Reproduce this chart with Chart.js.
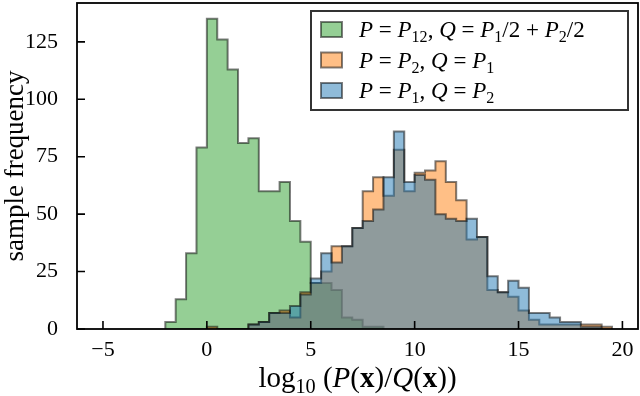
<!DOCTYPE html>
<html><head><meta charset="utf-8">
<script src="https://cdn.jsdelivr.net/npm/chart.js@4/dist/chart.umd.min.js"></script>
<style>html,body{margin:0;padding:0;background:#fff;}</style>
</head><body>
<canvas id="c" width="640" height="396"></canvas>
<script>
// ---- data (histogram bins: left edge = binStart + i*binWidth) ----
const binStart = -2;
const binWidth = 0.5;
const countsP12 = [3,13,33,79,135,126,113,81,83,60,60,64,47,38,20,20,17,5,4,1,1,
  0,0,0,0,0,0,0,0,0,0,0,0,0,0,0,0,0,0,0,0,0,0,0];
const countsP2P1 = [0,0,0,0,1,0,0,0,2,3,7,8,5,16,20,25,36,36,44,60,66,58,78,60,68,69,73,64,56,39,40,17,16,14,8,4,2,2,2,2,2,2,1,0];
const countsP1P2 = [0,0,0,0,0,0,0,0,2,3,7,7,10,15,22,33,29,36,44,47,52,66,86,64,67,65,50,48,47,48,40,23,16,21,18,7,7,5,3,3,1,1,0,0];
const seriesLabels = ['P = P_{12}, Q = P_1/2 + P_2/2', 'P = P_2, Q = P_1', 'P = P_1, Q = P_2'];
const seriesColors = ['rgba(44,160,44,0.5)', 'rgba(255,127,14,0.5)', 'rgba(31,119,180,0.5)'];
const xTicks = [-5, 0, 5, 10, 15, 20];
const yTicks = [0, 25, 50, 75, 100, 125];
const xTitle = '\\log_{10} (P(\\mathbf{x})/Q(\\mathbf{x}))';
const yTitle = 'sample frequency';

// build step outline points from bins
function histPoints(counts) {
  let first = counts.findIndex(v => v > 0);
  let last = counts.length - 1;
  while (last > 0 && counts[last] === 0) last--;
  const pts = [{x: binStart + first * binWidth, y: 0}];
  for (let i = first; i <= last; i++) pts.push({x: binStart + i * binWidth, y: counts[i]});
  const right = binStart + (last + 1) * binWidth;
  pts.push({x: right, y: counts[last]});
  pts.push({x: right, y: 0});
  return pts;
}

const FONT = '"Liberation Serif", "DejaVu Serif", serif';

function parseTex(s) {
  const out = []; let i = 0;
  while (i < s.length) {
    if (s.startsWith('\\log', i)) { out.push({t: 'log', st: 'n'}); i += 4; continue; }
    if (s.startsWith('\\mathbf{', i)) { const j = s.indexOf('}', i); out.push({t: s.slice(i + 8, j), st: 'b'}); i = j + 1; continue; }
    if (s[i] === '_') {
      let t;
      if (s[i + 1] === '{') { const j = s.indexOf('}', i); t = s.slice(i + 2, j); i = j + 1; }
      else { t = s[i + 1]; i += 2; }
      out.push({t, st: 'n', sub: true}); continue;
    }
    const c = s[i];
    out.push({t: c, st: /[A-Za-z]/.test(c) ? 'i' : 'n'}); i++;
  }
  return out;
}
function fontFor(p, size) {
  const sz = p.sub ? size * 0.7 : size;
  return (p.st === 'i' ? 'italic ' : '') + (p.st === 'b' ? 'bold ' : '') + sz + 'px ' + FONT;
}
function measureTex(ctx, parts, size) {
  let w = 0;
  for (const p of parts) { ctx.font = fontFor(p, size); w += ctx.measureText(p.t).width; }
  return w;
}
function drawTex(ctx, parts, x, yBase, size) {
  ctx.textBaseline = 'alphabetic'; ctx.textAlign = 'left';
  for (const p of parts) {
    ctx.font = fontFor(p, size);
    ctx.fillText(p.t, x, yBase + (p.sub ? size * 0.22 : 0));
    x += ctx.measureText(p.t).width;
  }
}

const extras = {
  id: 'extras',
  afterDraw(chart) {
    const {ctx, chartArea: a, scales: {x, y}} = chart;
    ctx.save();
    ctx.strokeStyle = '#000';
    ctx.lineWidth = 1.6;
    ctx.beginPath();
    x.ticks.forEach(t => { const px = x.getPixelForValue(t.value); ctx.moveTo(px, a.bottom); ctx.lineTo(px, a.bottom - 8); });
    y.ticks.forEach(t => { const py = y.getPixelForValue(t.value); ctx.moveTo(a.left, py); ctx.lineTo(a.left + 8, py); });
    ctx.stroke();
    ctx.lineWidth = 1.8;
    ctx.strokeRect(a.left, a.top, a.right - a.left, a.bottom - a.top);

    // legend
    const lx = 311, ly = 11, lw = 317, lh = 99;
    ctx.fillStyle = '#fff';
    ctx.fillRect(lx, ly, lw, lh);
    ctx.strokeStyle = '#333';
    ctx.lineWidth = 2;
    ctx.strokeRect(lx, ly, lw, lh);
    const rowY = [29.5, 60, 90.5];
    seriesLabels.forEach((lab, i) => {
      const cy = rowY[i];
      ctx.fillStyle = seriesColors[i];
      ctx.fillRect(321, cy - 7.5, 21, 15);
      ctx.strokeStyle = 'rgba(0,0,0,0.5)';
      ctx.lineWidth = 2;
      ctx.strokeRect(321, cy - 7.5, 21, 15);
      ctx.fillStyle = '#000';
      drawTex(ctx, parseTex(lab), 359, cy + 7.5, 23);
    });

    // x title
    const parts = parseTex(xTitle);
    const size = 29;
    const w = measureTex(ctx, parts, size);
    ctx.fillStyle = '#000';
    drawTex(ctx, parts, (a.left + a.right) / 2 - w / 2, 387, size);
    ctx.restore();
  }
};

const datasets = [
  {label: seriesLabels[2], data: histPoints(countsP1P2), backgroundColor: seriesColors[2]},
  {label: seriesLabels[1], data: histPoints(countsP2P1), backgroundColor: seriesColors[1]},
  {label: seriesLabels[0], data: histPoints(countsP12), backgroundColor: seriesColors[0]},
].map(d => Object.assign(d, {
  stepped: 'before', fill: 'origin', borderColor: 'rgba(0,0,0,0.5)', borderWidth: 2,
  pointRadius: 0, tension: 0, borderJoinStyle: 'miter'
}));

new Chart(document.getElementById('c'), {
  type: 'line',
  data: {datasets},
  options: {
    responsive: false, animation: false, devicePixelRatio: 1,
    layout: {padding: {left: 0, right: 2, top: 3, bottom: 0}},
    plugins: {legend: {display: false}, tooltip: {enabled: false}},
    scales: {
      x: {
        type: 'linear', min: -6.25, max: 20.75,
        grid: {display: false, drawTicks: false}, border: {display: false},
        afterBuildTicks: s => { s.ticks = xTicks.map(v => ({value: v})); },
        ticks: {
          autoSkip: false, maxRotation: 0, padding: 8, color: '#000',
          font: {family: FONT, size: 22},
          callback: v => v < 0 ? '\u2212' + Math.abs(v) : String(v)
        },
        afterFit: s => { s.height = 67; s.paddingLeft = 0; s.paddingRight = 0; }
      },
      y: {
        type: 'linear', min: 0, max: 141.9,
        grid: {display: false, drawTicks: false}, border: {display: false},
        afterBuildTicks: s => { s.ticks = yTicks.map(v => ({value: v})); },
        ticks: {autoSkip: false, padding: 19, color: '#000', font: {family: FONT, size: 22}},
        title: {display: true, text: yTitle, color: '#000', padding: 0, font: {family: FONT, size: 27}},
        afterFit: s => { s.width = 77; s.paddingTop = 0; s.paddingBottom = 0; }
      }
    }
  },
  plugins: [extras]
});
</script>
</body></html>
